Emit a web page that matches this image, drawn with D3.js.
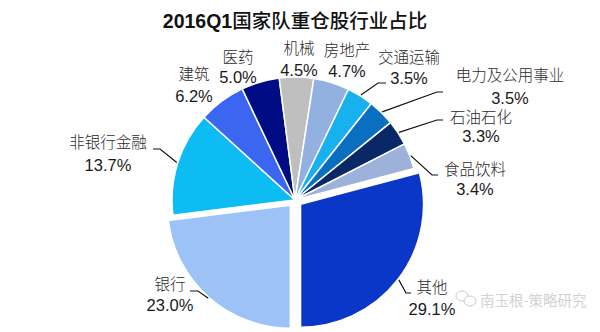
<!DOCTYPE html>
<html>
<head>
<meta charset="utf-8">
<script src="https://cdn.jsdelivr.net/npm/d3@7"></script>
<style>
  body { margin: 0; background: #fff; }
  svg { display: block; }
  .pct { font-family: "Liberation Sans", Arial, sans-serif; font-size: 16.5px; fill: #1a1a1a; }
  .name { font-family: "Noto Sans CJK SC", sans-serif; font-size: 15.5px; font-weight: 300; fill: #2a2a2a; }
</style>
</head>
<body>
<script>
// data, in the order the pie is drawn (clockwise from 6 o'clock)
var categories = ["银行", "非银行金融", "建筑", "医药", "机械", "房地产", "交通运输", "电力及公用事业", "石油石化", "食品饮料", "其他"];
var shares = [23.0, 13.7, 6.2, 5.0, 4.5, 4.7, 3.5, 3.5, 3.3, 3.4, 29.1];
var colors = ["#9dc3f6", "#0cbcf2", "#3a66f2", "#000c84", "#bfbfbf", "#93b1e0", "#18b0ee", "#0a6fc0", "#0a2766", "#9db2da", "#0a37c8"];

// layout: label center x, name y, percent y, leader points (null = no leader)
var labelPos = [
  [170, 284, 305, [[198, 291], [190, 291]]],
  [108, 142, 165, [[160, 149], [153, 149]]],
  [194, 74, 96, null],
  [238, 57, 77, null],
  [299, 48, 70, null],
  [347, 50, 71, null],
  [409, 57, 78, [[378, 83], [386, 83]]],
  [510, 75, 98, [[437, 92], [443, 92]]],
  [481, 117, 136, [[437, 120], [443, 120]]],
  [475, 169, 189, [[432, 175], [438, 175]]],
  [432, 287, 309, [[406, 293], [411, 293]]]
];
var explode = { "银行": 7, "其他": 7 };

var width = 600, height = 332;
var cx = 295, cy = 200, radius = 123;

var svg = d3.select("body").append("svg")
  .attr("width", width)
  .attr("height", height);

// title
var title = svg.append("text")
  .attr("x", 295)
  .attr("y", 28)
  .attr("text-anchor", "middle")
  .style("font-size", "19.5px")
  .style("fill", "#111");
title.append("tspan")
  .style("font-family", "'Liberation Sans', Arial, sans-serif")
  .style("font-weight", "bold")
  .text("2016Q1");
title.append("tspan")
  .style("font-family", "'Noto Sans CJK SC', sans-serif")
  .style("font-weight", "500")
  .text("国家队重仓股行业占比");

var pie = d3.pie()
  .sort(null)
  .startAngle(Math.PI)
  .endAngle(3 * Math.PI)
  .value(function (d) { return d; });

var arcs = pie(shares);

var arc = d3.arc().innerRadius(0).outerRadius(radius);
var edge = d3.arc().innerRadius(radius + 1).outerRadius(radius + 1);

function offset(d, i) {
  var e = explode[categories[i]] || 0;
  var a = (d.startAngle + d.endAngle) / 2;
  return [e * Math.sin(a), -e * Math.cos(a)];
}

var g = svg.append("g").attr("transform", "translate(" + cx + "," + cy + ")");

g.selectAll("path.slice")
  .data(arcs)
  .enter().append("path")
  .attr("class", "slice")
  .attr("d", arc)
  .attr("transform", function (d, i) {
    var o = offset(d, i);
    return "translate(" + o[0] + "," + o[1] + ")";
  })
  .style("fill", function (d, i) { return colors[i]; })
  .style("stroke", "#fff")
  .style("stroke-width", 1.5);

// leader lines
arcs.forEach(function (d, i) {
  var lp = labelPos[i];
  if (!lp[3]) return;
  var o = offset(d, i);
  var c = edge.centroid(d);
  var pts = [[cx + c[0] + o[0], cy + c[1] + o[1]]].concat(lp[3]);
  svg.append("path")
    .attr("d", d3.line()(pts))
    .style("fill", "none")
    .style("stroke", "#111")
    .style("stroke-width", 1.2);
});

// labels
var labels = svg.selectAll("g.label")
  .data(arcs)
  .enter().append("g")
  .attr("class", "label");

labels.append("text")
  .attr("class", "name")
  .attr("x", function (d, i) { return labelPos[i][0]; })
  .attr("y", function (d, i) { return labelPos[i][1]; })
  .attr("dy", "0.36em")
  .attr("text-anchor", "middle")
  .text(function (d, i) { return categories[i]; });

labels.append("text")
  .attr("class", "pct")
  .attr("x", function (d, i) { return labelPos[i][0]; })
  .attr("y", function (d, i) { return labelPos[i][2]; })
  .attr("dy", "0.36em")
  .attr("text-anchor", "middle")
  .text(function (d) { return d3.format(".1f")(d.data) + "%"; });

// watermark
var wm = svg.append("g").style("opacity", 0.75);
wm.append("ellipse").attr("cx", 462).attr("cy", 296).attr("rx", 6).attr("ry", 5)
  .style("fill", "#fff").style("stroke", "#bbb").style("stroke-width", 1);
wm.append("ellipse").attr("cx", 470).attr("cy", 301).attr("rx", 6).attr("ry", 5)
  .style("fill", "#fff").style("stroke", "#bbb").style("stroke-width", 1);
wm.append("text")
  .attr("x", 480)
  .attr("y", 306)
  .style("font-family", "'Noto Sans CJK SC', sans-serif")
  .style("font-size", "14.5px")
  .style("fill", "#c4c4c4")
  .text("南玉根-策略研究");
</script>
</body>
</html>
